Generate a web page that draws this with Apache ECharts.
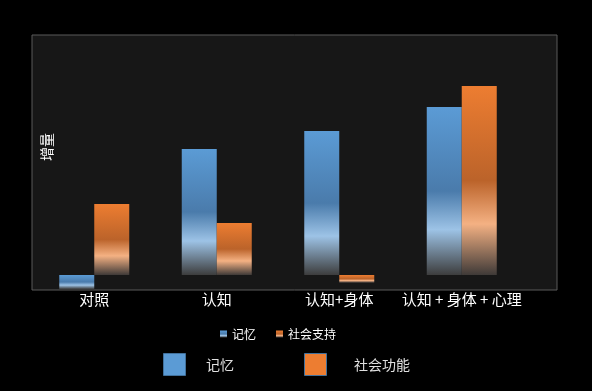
<!DOCTYPE html>
<html><head><meta charset="utf-8">
<script src="https://cdn.jsdelivr.net/npm/echarts@6/dist/echarts.min.js"></script>
<style>html,body{margin:0;padding:0;background:#000;}#c{width:592px;height:391px;}</style>
</head><body><div id="c"></div>
<script>
const categories = ['对照', '认知', '认知+身体', '认知 + 身体 + 心理'];
const memory = [-0.93, 8.4, 9.6, 11.2];
const social = [4.73, 3.47, -0.51, 12.6];
const seriesNames = ['记忆', '社会支持'];
const extraLegend = ['记忆', '社会功能'];
const yMin = -1, yMax = 16;

const FONT = '"Noto Sans CJK SC", "Noto Sans", sans-serif';
function grad(c0, c1, c2, c3) {
  return new echarts.graphic.LinearGradient(0, 0, 0, 1, [
    {offset: 0, color: c0},
    {offset: 0.5, color: c1},
    {offset: 0.73, color: c2},
    {offset: 1, color: c3}
  ]);
}
const chart = echarts.init(document.getElementById('c'), null, {renderer: 'canvas'});
chart.setOption({
  backgroundColor: '#000',
  animation: false,
  textStyle: {fontFamily: FONT},
  grid: [
    {left: 32, right: 35, top: 35, bottom: 101, show: true, backgroundColor: '#171717', borderColor: '#5a5a5a', borderWidth: 1},
    {left: 33, width: 490, top: 35, bottom: 101}
  ],
  xAxis: [
    {gridIndex: 0, type: 'category', data: categories, show: false},
    {gridIndex: 1, type: 'category', data: categories,
     axisLine: {show: false}, axisTick: {show: false},
     axisLabel: {color: '#ffffff', fontSize: 15, margin: 2, fontFamily: FONT, interval: 0}}
  ],
  yAxis: [
    {gridIndex: 0, type: 'value', show: false, min: yMin, max: yMax},
    {gridIndex: 1, type: 'value', show: false, min: yMin, max: yMax}
  ],
  legend: {
    data: seriesNames, top: 323, left: 215, itemWidth: 7, itemHeight: 7, itemGap: 20,
    textStyle: {color: '#ffffff', fontSize: 12, fontFamily: FONT}, icon: 'rect'
  },
  series: [
    {name: seriesNames[0], type: 'bar', xAxisIndex: 1, yAxisIndex: 1, data: memory, barWidth: 35, barGap: '0%',
     itemStyle: {color: grad('#5b9bd5', '#4a7bab', '#9dc3e6', '#3d3d3d')}},
    {name: seriesNames[1], type: 'bar', xAxisIndex: 1, yAxisIndex: 1, data: social, barWidth: 35, barGap: '0%',
     itemStyle: {color: grad('#ed7d31', '#bb632a', '#f4b183', '#3f3a38')}}
  ],
  graphic: [
    {type: 'text', x: 40, y: 161, rotation: Math.PI / 2,
     style: {text: '增量', fill: '#ffffff', font: '14px ' + FONT, textAlign: 'left', textVerticalAlign: 'top'}},
    {type: 'rect', shape: {x: 163.5, y: 353.5, width: 22, height: 22}, style: {fill: '#5b9bd5', stroke: '#41719c', lineWidth: 1}},
    {type: 'text', x: 206, y: 365, style: {text: extraLegend[0], fill: '#e0e0e0', font: '14px ' + FONT, textVerticalAlign: 'middle'}},
    {type: 'rect', shape: {x: 304.5, y: 353.5, width: 22, height: 22}, style: {fill: '#ed7d31', stroke: '#41719c', lineWidth: 1}},
    {type: 'text', x: 354, y: 365, style: {text: extraLegend[1], fill: '#e0e0e0', font: '14px ' + FONT, textVerticalAlign: 'middle'}}
  ]
});
</script></body></html>
